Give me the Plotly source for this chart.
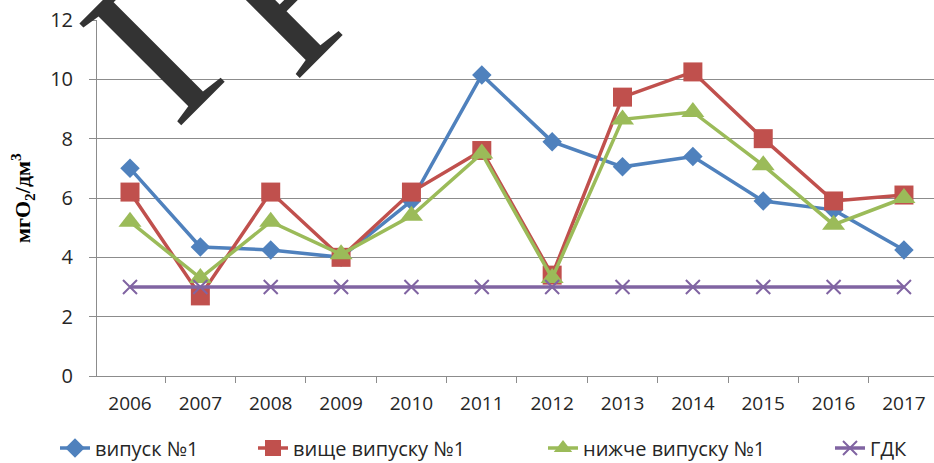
import plotly.graph_objects as go

# Years of observation
years = ["2006", "2007", "2008", "2009", "2010", "2011",
         "2012", "2013", "2014", "2015", "2016", "2017"]

# BOD values, mgO2/dm3
vypusk = [7.0, 4.35, 4.25, 4.0, 5.9, 10.15, 7.9, 7.05, 7.4, 5.9, 5.6, 4.25]
vyshche = [6.2, 2.7, 6.2, 4.0, 6.2, 7.6, 3.4, 9.4, 10.25, 8.0, 5.9, 6.1]
nyzhche = [5.2, 3.3, 5.2, 4.1, 5.4, 7.5, 3.3, 8.65, 8.9, 7.1, 5.1, 6.0]
gdk = [3.0] * 12

W, H = 934, 463
L, R, T, B = 97, 0, 20, 87
pw, ph = W - L - R, H - T - B

def px_to_paper(px, py):
    return (px - L) / pw, (H - B - py) / ph

# each series gets its own legend box so the entries can be spaced out
series = [
    ("випуск №1", vypusk, "#4F81BD", dict(symbol="diamond", size=15), "legend", 95),
    ("вище випуску №1", vyshche, "#C0504D", dict(symbol="square", size=19), "legend2", 293),
    ("нижче випуску №1", nyzhche, "#9BBB59", dict(symbol="triangle-up", size=20), "legend3", 583),
    ("ГДК", gdk, "#8064A2", dict(symbol="x-thin", size=14), "legend4", 870),
]

axis_col = "#8C8C8C"
text_col = "#262626"
legend_font = dict(family="Open Sans", size=20, color=text_col)

fig = go.Figure()
legends = {}
for name, vals, color, mk, leg, text_x in series:
    marker = dict(color=color, **mk)
    if mk["symbol"] == "x-thin":
        marker["line"] = dict(color=color, width=2)
    fig.add_trace(go.Scatter(
        x=years, y=vals, name=name, mode="lines+markers",
        line=dict(color=color, width=3.5), marker=marker, legend=leg,
    ))
    lx, ly = px_to_paper(text_x - 40, 448)
    legends[leg] = dict(
        orientation="h", x=lx, y=ly, xanchor="left", yanchor="middle",
        font=legend_font, itemsizing="trace", bgcolor="rgba(0,0,0,0)",
    )

tick_font = dict(family="Open Sans", size=19, color=text_col)

# large rotated serif letters across the top-left corner
for ch, (cx, cy) in [("Г", (169, 33)), ("Р", (285, -12))]:
    ax, ay = px_to_paper(cx, cy)
    fig.add_annotation(
        text=ch, x=ax, y=ay, xref="paper", yref="paper",
        showarrow=False, textangle=-45,
        font=dict(family="Liberation Serif", size=220, color="#333333"),
        xanchor="center", yanchor="middle",
    )

# y-axis title
tx, ty = px_to_paper(22, 198)
fig.add_annotation(
    text="мгO<sub>2</sub>/дм<sup>3</sup>", x=tx, y=ty,
    xref="paper", yref="paper", showarrow=False, textangle=-90,
    font=dict(family="Liberation Serif", size=22, color="#000000", weight="bold"),
    xanchor="center", yanchor="middle",
)

fig.update_layout(
    width=W, height=H,
    margin=dict(l=L, r=R, t=T, b=B, autoexpand=False),
    paper_bgcolor="white", plot_bgcolor="white",
    showlegend=True,
    **legends,
    xaxis=dict(
        type="category", range=[-0.469, 11.427],
        tickson="boundaries", ticks="outside", ticklen=6,
        tickcolor=axis_col, showline=True, linecolor=axis_col,
        showgrid=False, tickfont=tick_font, ticklabelstandoff=10,
    ),
    yaxis=dict(
        range=[0, 12], dtick=2, ticks="outside", ticklen=7,
        tickcolor=axis_col, showline=True, linecolor=axis_col,
        showgrid=True, gridcolor=axis_col, gridwidth=1,
        zeroline=False, tickfont=dict(tick_font, size=20), ticklabelstandoff=12,
    ),
)

fig.write_html("out.html")
